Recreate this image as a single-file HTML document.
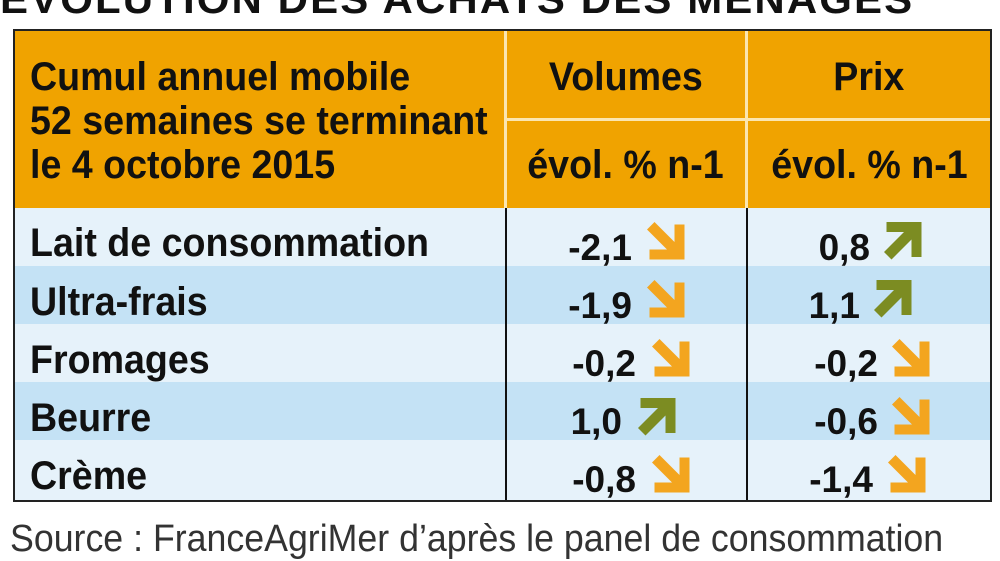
<!DOCTYPE html>
<html><head><meta charset="utf-8"><style>
*{margin:0;padding:0;box-sizing:border-box}
body{width:1000px;height:561px;background:#fff;position:relative;overflow:hidden;font-family:"Liberation Sans",sans-serif;color:#111}
.a{position:absolute;white-space:nowrap}
.t{font-size:40px;line-height:1;font-weight:bold}
.sx{transform-origin:left top;display:inline-block;transform:scaleX(0.94)}
.c{transform-origin:center top;display:inline-block;transform:scaleX(0.94)}
</style></head><body>
<div class="a" style="left:0;top:-22px;font-size:40px;font-weight:bold;letter-spacing:2px;transform:scaleX(1.05);transform-origin:left">ÉVOLUTION DES ACHATS DES MÉNAGES</div>

<div class="a" style="left:14px;top:30px;width:977px;height:180px;background:#F0A300"></div>
<div class="a" style="left:14px;top:208px;width:977px;height:58px;background:#E6F2FA"></div>
<div class="a" style="left:14px;top:266px;width:977px;height:58px;background:#C4E2F5"></div>
<div class="a" style="left:14px;top:324px;width:977px;height:58px;background:#E6F2FA"></div>
<div class="a" style="left:14px;top:382px;width:977px;height:58px;background:#C4E2F5"></div>
<div class="a" style="left:14px;top:440px;width:977px;height:60px;background:#E6F2FA"></div>

<div class="a" style="left:505px;top:118px;width:486px;height:3px;background:#FBE6B0"></div>
<div class="a" style="left:504px;top:30px;width:3px;height:178px;background:#FBE6B0"></div>
<div class="a" style="left:745px;top:30px;width:3px;height:178px;background:#FBE6B0"></div>
<div class="a" style="left:505px;top:208px;width:2px;height:292px;background:#111"></div>
<div class="a" style="left:746px;top:208px;width:2px;height:292px;background:#111"></div>
<div class="a" style="left:13px;top:29px;width:979px;height:473px;border:2px solid #222"></div>

<div class="a t" style="left:30px;top:57px"><span class="sx">Cumul annuel mobile</span></div>
<div class="a t" style="left:30px;top:101px"><span class="sx">52 semaines se terminant</span></div>
<div class="a t" style="left:30px;top:145px"><span class="sx">le 4 octobre 2015</span></div>
<div class="a t" style="left:505px;width:241px;text-align:center;top:57px"><span class="c">Volumes</span></div>
<div class="a t" style="left:747px;width:244px;text-align:center;top:57px"><span class="c">Prix</span></div>
<div class="a t" style="left:505px;width:241px;text-align:center;top:145px"><span class="c">évol. % n-1</span></div>
<div class="a t" style="left:747px;width:244px;text-align:center;top:145px"><span class="c">évol. % n-1</span></div>

<div class="a t" style="left:30px;top:223px"><span class="sx">Lait de consommation</span></div>
<div class="a t" style="left:30px;top:282px"><span class="sx">Ultra-frais</span></div>
<div class="a t" style="left:30px;top:340px"><span class="sx">Fromages</span></div>
<div class="a t" style="left:30px;top:398px"><span class="sx">Beurre</span></div>
<div class="a t" style="left:30px;top:456px"><span class="sx">Crème</span></div>

<svg width="1000" height="561" style="position:absolute;left:0;top:0">
<defs>
<polygon id="dn" points="0,6 6,0 22,16 22,2 30,2 30,30 2,30 2,22 16,22" transform="scale(1.25)"/>
<polygon id="up" points="0,24 6,30 22,14 22,28 30,28 30,0 2,0 2,8 16,8" transform="scale(1.25)"/>
</defs>
<g font-family="Liberation Sans,sans-serif" font-size="37" font-weight="bold" fill="#111" text-anchor="end">
<text x="632" y="260">-2,1</text><text x="632" y="318">-1,9</text><text x="636" y="376">-0,2</text><text x="622" y="434">1,0</text><text x="636" y="492">-0,8</text>
<text x="870" y="260">0,8</text><text x="860" y="318">1,1</text><text x="878" y="376">-0,2</text><text x="878" y="434">-0,6</text><text x="873" y="492">-1,4</text>
</g>
<g fill="#F3A51F">
<use href="#dn" x="647" y="222"/><use href="#dn" x="647" y="280"/><use href="#dn" x="652" y="339"/><use href="#dn" x="652" y="455"/>
<use href="#dn" x="892" y="339"/><use href="#dn" x="892" y="397"/><use href="#dn" x="888" y="455"/>
</g>
<g fill="#7C8C22">
<use href="#up" x="638" y="398"/><use href="#up" x="884" y="222"/><use href="#up" x="874" y="280"/>
</g>
</svg>

<div class="a" style="left:10px;top:520px;font-size:38px;line-height:1;color:#333"><span class="sx" style="transform:scaleX(0.94)">Source : FranceAgriMer d’après le panel de consommation</span></div>
</body></html>
